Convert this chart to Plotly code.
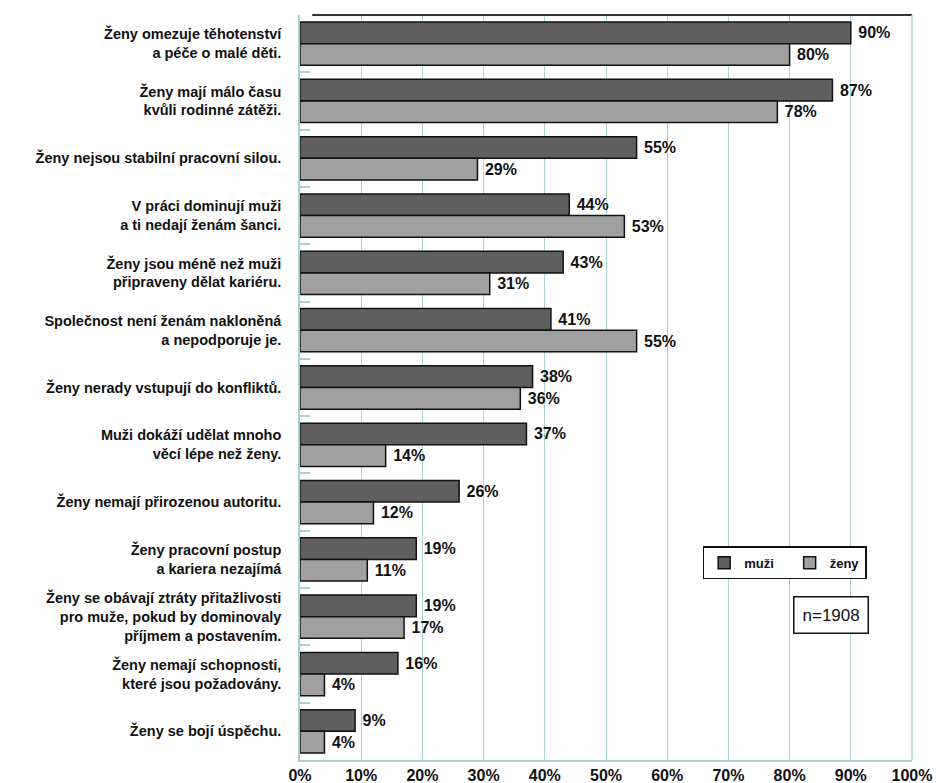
import plotly.graph_objects as go

categories = [
    "Ženy omezuje těhotenství<br>a péče o malé děti.",
    "Ženy mají málo času<br>kvůli rodinné zátěži.",
    "Ženy nejsou stabilní pracovní silou.",
    "V práci dominují muži<br>a ti nedají ženám šanci.",
    "Ženy jsou méně než muži<br>připraveny dělat kariéru.",
    "Společnost není ženám nakloněná<br>a nepodporuje je.",
    "Ženy nerady vstupují do konfliktů.",
    "Muži dokáží udělat mnoho<br>věcí lépe než ženy.",
    "Ženy nemají přirozenou autoritu.",
    "Ženy pracovní postup<br>a kariera nezajímá",
    "Ženy se obávají ztráty přitažlivosti<br>pro muže, pokud by dominovaly<br>příjmem a postavením.",
    "Ženy nemají schopnosti,<br>které jsou požadovány.",
    "Ženy se bojí úspěchu.",
]
muzi = [90, 87, 55, 44, 43, 41, 38, 37, 26, 19, 19, 16, 9]
zeny = [80, 78, 29, 53, 31, 55, 36, 14, 12, 11, 17, 4, 4]
tick_vals = [0, 10, 20, 30, 40, 50, 60, 70, 80, 90, 100]
tick_text = [f"{v}%" for v in tick_vals]

FONT = "Arial, Liberation Sans, sans-serif"
PAD = "\u00a0"

fig = go.Figure()
fig.add_trace(go.Bar(
    name="muži\u00a0\u00a0\u00a0", y=categories, x=muzi, orientation="h",
    marker=dict(color="#5f5f5f", line=dict(color="#111111", width=1.5)),
    text=[f"{PAD}{v}%" for v in muzi], textposition="outside",
    textfont=dict(family=FONT, size=16, color="#111111", weight="bold"),
    cliponaxis=False,
))
fig.add_trace(go.Bar(
    name="ženy", y=categories, x=zeny, orientation="h",
    marker=dict(color="#a0a0a0", line=dict(color="#111111", width=1.5)),
    text=[f"{PAD}{v}%" for v in zeny], textposition="outside",
    textfont=dict(family=FONT, size=16, color="#111111", weight="bold"),
    cliponaxis=False,
))

fig.update_layout(
    width=937, height=783,
    margin=dict(l=300, r=25, t=15, b=23, autoexpand=False),
    barmode="group", bargap=0.245, bargroupgap=0.0,
    plot_bgcolor="white", paper_bgcolor="white",
    font=dict(family=FONT, color="#111111"),
    legend=dict(
        orientation="h", x=0.658, y=0.287, xanchor="left", yanchor="top",
        bordercolor="#111111", borderwidth=1.5, bgcolor="white",
        font=dict(family=FONT, size=13, color="#111111", weight="bold"),
        itemwidth=30, tracegroupgap=0,
    ),
    xaxis=dict(
        range=[0, 100], tickvals=tick_vals, ticktext=tick_text,
        showgrid=True, gridcolor="#a9d3d3", gridwidth=1.2,
        showline=True, linecolor="#a9d3d3", linewidth=1.5, mirror=False,
        zeroline=False, ticks="", automargin=False,
        tickfont=dict(family=FONT, size=16, color="#111111", weight="bold"),
    ),
    yaxis=dict(
        categoryorder="array", categoryarray=categories, autorange="reversed",
        showline=True, linecolor="#a9d3d3", linewidth=1.5, automargin=False,
        ticks="inside", tickson="boundaries", ticklen=10, tickcolor="#a9d3d3",
        tickwidth=1.5,
        tickfont=dict(family=FONT, size=14.5, color="#111111", weight="bold"),
        ticklabelstandoff=14,
    ),
    shapes=[
        dict(type="line", xref="paper", yref="paper", x0=0.02, x1=1, y0=1, y1=1,
             line=dict(color="#333333", width=2)),
        dict(type="line", xref="paper", yref="paper", x0=1, x1=1, y0=0, y1=1,
             line=dict(color="#a9d3d3", width=1.5)),
    ],
    annotations=[
        dict(text="n=1908", xref="paper", yref="paper", x=0.867, y=0.194,
             xanchor="center", yanchor="middle",
             showarrow=False, font=dict(family=FONT, size=17, color="#111111"),
             bordercolor="#111111", borderwidth=1.5, borderpad=8, bgcolor="white"),
    ],
)

fig.write_html("out.html")
